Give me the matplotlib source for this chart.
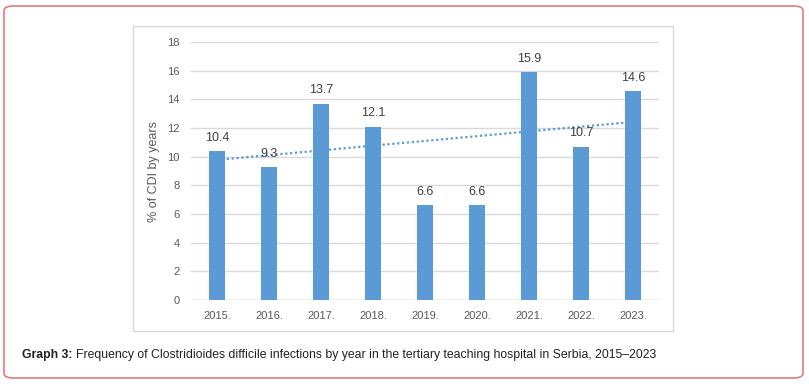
import numpy as np
import matplotlib.pyplot as plt
from matplotlib.patches import FancyBboxPatch, Rectangle

years = ["2015.", "2016.", "2017.", "2018.", "2019.", "2020.", "2021.", "2022.", "2023."]
values = [10.4, 9.3, 13.7, 12.1, 6.6, 6.6, 15.9, 10.7, 14.6]
yticks = [0, 2, 4, 6, 8, 10, 12, 14, 16, 18]

W, H = 809, 384
fig = plt.figure(figsize=(W / 100, H / 100), dpi=100)
fig.patch.set_facecolor("white")

# outer rounded red frame
fig.patches.append(FancyBboxPatch((4 / W, 6 / H), 799 / W, 372 / H,
                                  boxstyle="round,pad=0,rounding_size=0.012",
                                  transform=fig.transFigure, fill=False,
                                  edgecolor="#e07b7b", linewidth=1.2))
# chart box
fig.patches.append(Rectangle((133 / W, (H - 331) / H), 540 / W, 305 / H,
                             transform=fig.transFigure, fill=False,
                             edgecolor="#d9d9d9", linewidth=1))

ax = fig.add_axes([191 / W, (H - 300) / H, 468 / W, 258 / H])
x = np.arange(len(years))
ax.bar(x, values, width=0.31, color="#5b9bd5", zorder=3)

# linear trendline
k, b = np.polyfit(x, values, 1)
ax.plot(x, k * x + b, color="#5b9bd5", linestyle=(0, (1, 1.2)), linewidth=1.6, zorder=4)

for xi, v in zip(x, values):
    ax.text(xi, v + 0.5, f"{v}", ha="center", va="bottom",
            fontsize=9, color="#404040", family="Liberation Sans", zorder=5)

ax.set_xlim(-0.5, len(years) - 0.5)
ax.set_ylim(0, 18)
ax.set_yticks(yticks)
ax.set_xticks(x)
ax.set_xticklabels(years)
ax.tick_params(length=0, labelsize=8, labelcolor="#595959", pad=8)
for lab in ax.get_xticklabels() + ax.get_yticklabels():
    lab.set_family("Liberation Sans")
ax.grid(axis="y", color="#d9d9d9", linewidth=1, zorder=0)
for s in ax.spines.values():
    s.set_visible(False)
ax.axhline(0, color="#d9d9d9", linewidth=1, zorder=1)
ax.set_ylabel("% of CDI by years", fontsize=9, color="#595959",
              family="Liberation Sans", labelpad=5)

cap_y = (H - 355) / H
t1 = fig.text(22 / W, cap_y, "Graph 3:", fontsize=8.8, fontweight="bold",
              family="Liberation Sans", va="center", ha="left", color="#222222")
fig.canvas.draw()
bb = t1.get_window_extent()
fig.text((bb.x1 + 3) / W, cap_y,
         "Frequency of Clostridioides difficile infections by year in the tertiary teaching hospital in Serbia, 2015\u20132023",
         fontsize=8.8, family="Liberation Sans", va="center", ha="left", color="#222222")

fig.savefig("out.png", dpi=100)
